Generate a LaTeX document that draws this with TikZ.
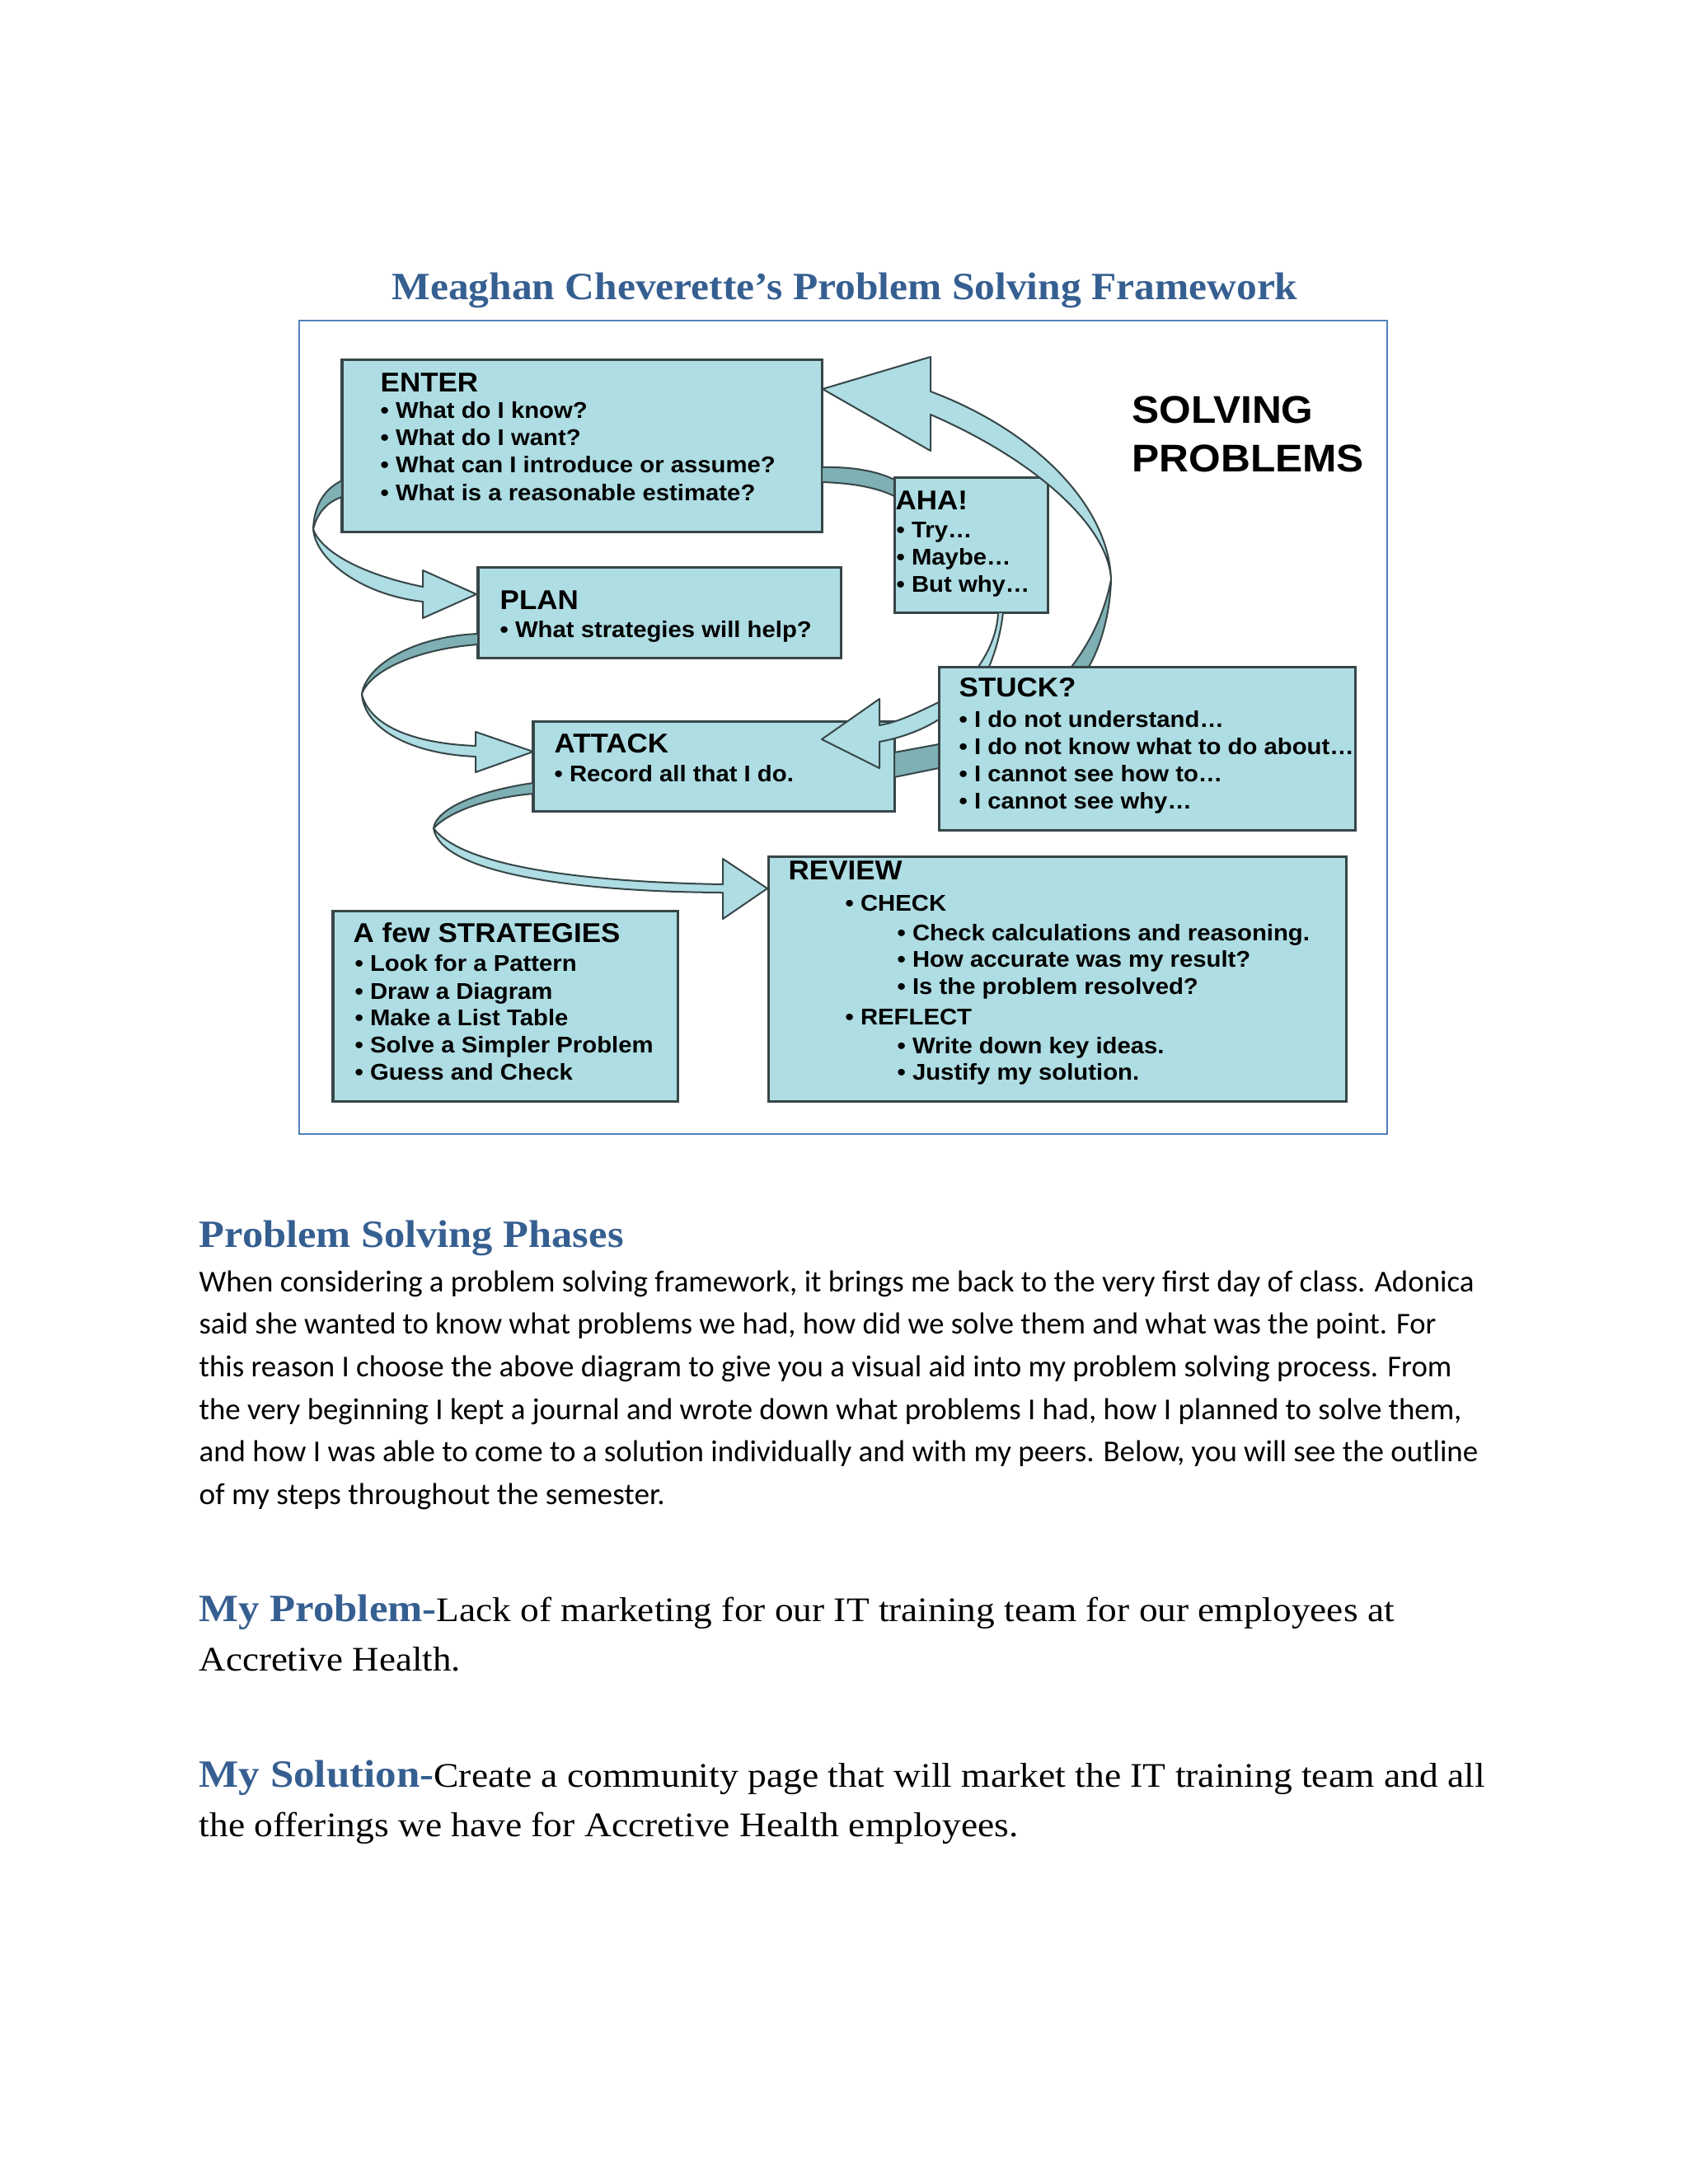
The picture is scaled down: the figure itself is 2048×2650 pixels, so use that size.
\documentclass[tikz,border=0pt]{standalone}
\usepackage{fontspec}
\usepackage{graphicx}
\setmainfont{Liberation Serif}
\newfontfamily\boxfont[FakeStretch=1.06]{Liberation Sans}
\newfontfamily\bodyfont{Carlito}
\usetikzlibrary{calc}
\definecolor{boxfill}{RGB}{174,221,227}
\definecolor{bandfill}{RGB}{126,176,180}
\definecolor{edgecol}{RGB}{55,70,72}
\definecolor{headblue}{RGB}{54,95,145}
\definecolor{framecol}{RGB}{79,129,189}
\newsavebox\fitbox
\newcommand\fitw[2]{\sbox\fitbox{#2}\pgfmathsetmacro\fitsx{#1*0.29883/\the\wd\fitbox}\scalebox{\fitsx}[1]{\usebox\fitbox}}
\newcommand\bodyline[2]{\fitw{#1}{\bodyfont\fontsize{11}{13}\selectfont #2}}
\newcommand\boxat[5]{\node[box, minimum width={(#4-#2)*0.29883pt}, minimum height={(#5-#3)*0.29883pt}] (#1) at ({(#2+#4)/2},{(#3+#5)/2}) {};}
\begin{document}
\begin{tikzpicture}[x=0.29883pt, y=-0.29883pt,
  box/.style={draw=edgecol, line width=0.9pt, fill=boxfill, inner sep=0pt, outer sep=0pt},
  framebox/.style={draw=framecol, line width=0.7pt, inner sep=0pt, outer sep=0pt},
  rib/.style={fill=boxfill, draw=edgecol, line width=0.6pt, line join=round},
  band/.style={fill=bandfill, draw=edgecol, line width=0.6pt, line join=round},
  ttl/.style={anchor=base west, inner sep=0pt, font=\boxfont\bfseries\fontsize{9.86}{11}\selectfont},
  itm/.style={anchor=base west, inner sep=0pt, font=\boxfont\bfseries\fontsize{8.26}{9}\selectfont},
  big/.style={anchor=base west, inner sep=0pt, font=\boxfont\bfseries\fontsize{14}{16}\selectfont},
  txt/.style={anchor=base west, inner sep=0pt}]
\useasboundingbox (0,0) rectangle (2048,2650);
\fill[white] (0,0) rectangle (2048,2650);

% title
\node[anchor=base, inner sep=0pt, text=headblue] (title) at (1025,363)
  {\fitw{1099}{\bfseries\fontsize{14}{17}\selectfont Meaghan Cheverette’s Problem Solving Framework}};

% frame
\node[framebox, minimum width={(1683-363)*0.29883pt}, minimum height={(1376-389)*0.29883pt}] (frame) at ({(363+1683)/2},{(389+1376)/2}) {};

% boxes
\boxat{enter}{415}{436}{997}{645}
\boxat{aha}{1085}{579}{1271}{743}
\boxat{plan}{580}{688}{1020}{798}
\boxat{attack}{647}{875}{1085}{984}
\boxat{stuck}{1139}{809}{1644}{1007}
\boxat{review}{932}{1039}{1633}{1336}
\boxat{strat}{404}{1105}{822}{1336}

% bands (back side of ribbons)
\draw[band] (997,567) .. controls (1035,566) and (1065,572) .. (1085,582) -- (1085,602) .. controls (1065,592) and (1035,586) .. (997,585) -- cycle;
\draw[band] (1085,913) -- (1139,903) -- (1139,932) -- (1085,943) -- cycle;

% ENTER -> PLAN
\draw[band] (415,583) .. controls (392,594) and (381,615) .. (380,642) .. controls (385,622) and (397,609) .. (415,603) -- cycle;
\draw[rib] (513,712) .. controls (440,697) and (390,670) .. (380,642) .. controls (383,680) and (440,722) .. (513,730) -- (513,750) -- (578,721) -- (513,692) -- cycle;

% PLAN -> ATTACK
\draw[band] (580,769) .. controls (505,772) and (445,805) .. (439,842) .. controls (450,812) and (510,787) .. (580,782) -- cycle;
\draw[rib] (577,905) .. controls (500,902) and (448,880) .. (439,842) .. controls (442,885) and (500,915) .. (577,918) -- (577,937) -- (647,912) -- (577,888) -- cycle;

% ATTACK -> REVIEW
\draw[band] (647,950) .. controls (590,958) and (530,978) .. (526,1005) .. controls (545,985) and (590,968) .. (647,963) -- cycle;
\draw[rib] (877,1073) .. controls (700,1070) and (560,1050) .. (526,1005) .. controls (535,1060) and (700,1082) .. (877,1083) -- (877,1115) -- (931,1078) -- (877,1042) -- cycle;

% STUCK -> ATTACK
\draw[rib] (1139,852) .. controls (1110,866) and (1090,876) .. (1067,880) -- (1067,848) -- (997,897) -- (1067,932) -- (1067,900) .. controls (1095,895) and (1120,885) .. (1139,873) -- cycle;

% AHA -> STUCK
\draw[rib] (1217,743) .. controls (1214,770) and (1207,792) .. (1200,809) -- (1187,809) .. controls (1200,790) and (1210,768) .. (1211,743) -- cycle;

% STUCK -> ENTER
\draw[band] (1348,703) .. controls (1347,745) and (1335,785) .. (1321,809) -- (1300,809) .. controls (1322,780) and (1340,745) .. (1348,703) -- cycle;
\draw[rib] (1129,475) .. controls (1250,520) and (1345,610) .. (1348,703) .. controls (1345,640) and (1260,560) .. (1129,503) -- (1129,547) -- (998,472) -- (1129,433) -- cycle;

% texts in boxes
\node[ttl] (enter-t) at (461,475) {ENTER};
\node[itm] (enter-1) at (461,507) {• What do I know?};
\node[itm] (enter-2) at (461,540) {• What do I want?};
\node[itm] (enter-3) at (461,573) {• What can I introduce or assume?};
\node[itm] (enter-4) at (461,607) {• What is a reasonable estimate?};

\node[ttl] (plan-t) at (606,739) {PLAN};
\node[itm] (plan-1) at (606,773) {• What strategies will help?};

\node[ttl] (aha-t) at (1086,618) {AHA!};
\node[itm] (aha-1) at (1087,652) {• Try…};
\node[itm] (aha-2) at (1087,685) {• Maybe…};
\node[itm] (aha-3) at (1087,718) {• But why…};

\node[ttl] (stuck-t) at (1163,845) {STUCK?};
\node[itm] (stuck-1) at (1163,882) {• I do not understand…};
\node[itm] (stuck-2) at (1163,915) {• I do not know what to do about…};
\node[itm] (stuck-3) at (1163,948) {• I cannot see how to…};
\node[itm] (stuck-4) at (1163,981) {• I cannot see why…};

\node[ttl] (attack-t) at (672,913) {ATTACK};
\node[itm] (attack-1) at (672,948) {• Record all that I do.};

\node[ttl] (review-t) at (956,1067) {REVIEW};
\node[itm] (review-c) at (1025,1105) {• CHECK};
\node[itm] (review-1) at (1088,1141) {• Check calculations and reasoning.};
\node[itm] (review-2) at (1088,1173) {• How accurate was my result?};
\node[itm] (review-3) at (1088,1206) {• Is the problem resolved?};
\node[itm] (review-r) at (1025,1243) {• REFLECT};
\node[itm] (review-4) at (1088,1278) {• Write down key ideas.};
\node[itm] (review-5) at (1088,1310) {• Justify my solution.};

\node[ttl] (strat-t) at (428,1143) {A few STRATEGIES};
\node[itm] (strat-1) at (430,1178) {• Look for a Pattern};
\node[itm] (strat-2) at (430,1212) {• Draw a Diagram};
\node[itm] (strat-3) at (430,1244) {• Make a List Table};
\node[itm] (strat-4) at (430,1277) {• Solve a Simpler Problem};
\node[itm] (strat-5) at (430,1310) {• Guess and Check};

\node[big] (solving) at (1373,513) {SOLVING};
\node[big] (problems) at (1373,572) {PROBLEMS};

% text below
\node[txt, text=headblue] (phases) at (241,1513) {\fitw{515}{\bfseries\fontsize{14}{17}\selectfont Problem Solving Phases}};
\node[txt] (p1) at (241,1567) {\bodyline{1547}{When considering a problem solving framework, it brings me back to the very first day of class. Adonica}};
\node[txt] (p2) at (241,1618) {\bodyline{1501}{said she wanted to know what problems we had, how did we solve them and what was the point. For}};
\node[txt] (p3) at (241,1670) {\bodyline{1520}{this reason I choose the above diagram to give you a visual aid into my problem solving process. From}};
\node[txt] (p4) at (241,1722) {\bodyline{1532}{the very beginning I kept a journal and wrote down what problems I had, how I planned to solve them,}};
\node[txt] (p5) at (241,1773) {\bodyline{1552}{and how I was able to come to a solution individually and with my peers. Below, you will see the outline}};
\node[txt] (p6) at (241,1825) {\bodyline{565}{of my steps throughout the semester.}};

\node[txt] (prob1) at (241,1967) {\fitw{1450}{{\color{headblue}\bfseries\fontsize{14}{17}\selectfont My Problem-}{\fontsize{12.5}{15}\selectfont Lack of marketing for our IT training team for our employees at}}};
\node[txt] (prob2) at (241,2027) {\fitw{317}{\fontsize{12.5}{15}\selectfont Accretive Health.}};
\node[txt] (sol1) at (241,2168) {\fitw{1560}{{\color{headblue}\bfseries\fontsize{14}{17}\selectfont My Solution-}{\fontsize{12.5}{15}\selectfont Create a community page that will market the IT training team and all}}};
\node[txt] (sol2) at (241,2228) {\fitw{994}{\fontsize{12.5}{15}\selectfont the offerings we have for Accretive Health employees.}};
\end{tikzpicture}
\end{document}
